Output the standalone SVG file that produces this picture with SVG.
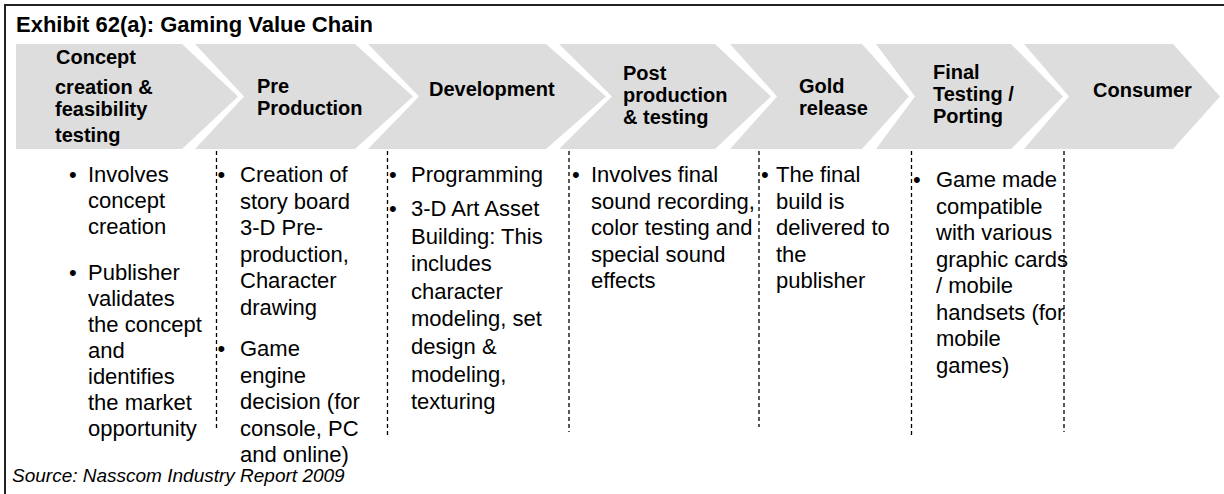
<svg xmlns="http://www.w3.org/2000/svg" width="1224" height="494" viewBox="0 0 1224 494">
<style>
text{font-family:"Liberation Sans",Arial,sans-serif;fill:#000}
.title{font-size:22px;font-weight:bold}
.lbl{font-size:20px;font-weight:bold}
.body{font-size:22px}
.src{font-size:19px;font-style:italic}
.chev{fill:#dddddd}
.sep{stroke:#000;stroke-width:1.3;stroke-dasharray:4 3;fill:none}
</style>
<rect x="5" y="5" width="1240" height="510" fill="#fff" stroke="#222" stroke-width="2"/>
<text class="title" x="16" y="32">Exhibit 62(a): Gaming Value Chain</text>

<g id="concept">
<polygon class="chev" points="16,44 182,44 238,96.5 182,149 16,149"/>
<text class="lbl"><tspan x="56" y="64">Concept</tspan><tspan x="55" y="94">creation &amp;</tspan><tspan x="55" y="116">feasibility</tspan><tspan x="55" y="142">testing</tspan></text>
</g>
<g id="preproduction">
<polygon class="chev" points="195,44 355,44 413,96.5 355,149 195,149 244,96.5"/>
<text class="lbl"><tspan x="257" y="93">Pre</tspan><tspan x="257" y="115">Production</tspan></text>
</g>
<g id="development">
<polygon class="chev" points="368,44 546,44 606,96.5 546,149 368,149 419,96.5"/>
<text class="lbl" x="429" y="96">Development</text>
</g>
<g id="postproduction">
<polygon class="chev" points="559,44 715,44 771,96.5 715,149 559,149 612,96.5"/>
<text class="lbl"><tspan x="623" y="80">Post</tspan><tspan x="623" y="102">production</tspan><tspan x="623" y="124">&amp; testing</tspan></text>
</g>
<g id="goldrelease">
<polygon class="chev" points="730,44 862,44 909,96.5 862,149 730,149 777,96.5"/>
<text class="lbl"><tspan x="799" y="93">Gold</tspan><tspan x="799" y="115">release</tspan></text>
</g>
<g id="finaltesting">
<polygon class="chev" points="876,44 1011,44 1063,96.5 1011,149 876,149 915,96.5"/>
<text class="lbl"><tspan x="933" y="79">Final</tspan><tspan x="933" y="101">Testing /</tspan><tspan x="933" y="123">Porting</tspan></text>
</g>
<g id="consumer">
<polygon class="chev" points="1024,44 1173,44 1220,96.5 1173,149 1024,149 1069,96.5"/>
<text class="lbl" x="1093" y="97">Consumer</text>
</g>

<g id="separators">
<line class="sep" x1="216.5" y1="151" x2="216.5" y2="430"/>
<line class="sep" x1="387.5" y1="151" x2="387.5" y2="437"/>
<line class="sep" x1="569" y1="151" x2="569" y2="432"/>
<line class="sep" x1="759" y1="151" x2="759" y2="427"/>
<line class="sep" x1="911.5" y1="151" x2="911.5" y2="437"/>
<line class="sep" x1="1064" y1="151" x2="1064" y2="432"/>
</g>

<g id="col-concept">
<text class="body" x="69" y="182">•</text>
<text class="body" x="69" y="280">•</text>
<text class="body"><tspan x="88" y="182">Involves</tspan><tspan x="88" y="208">concept</tspan><tspan x="88" y="234">creation</tspan><tspan x="88" y="280">Publisher</tspan><tspan x="88" y="306">validates</tspan><tspan x="88" y="332">the concept</tspan><tspan x="88" y="358">and</tspan><tspan x="88" y="384">identifies</tspan><tspan x="88" y="410">the market</tspan><tspan x="88" y="436">opportunity</tspan></text>
</g>
<g id="col-preproduction">
<text class="body" x="217.5" y="182">•</text>
<text class="body" x="217.5" y="356">•</text>
<text class="body"><tspan x="240" y="182">Creation of</tspan><tspan x="240" y="208.5">story board</tspan><tspan x="240" y="235">3-D Pre-</tspan><tspan x="240" y="261.5">production,</tspan><tspan x="240" y="288">Character</tspan><tspan x="240" y="314.5">drawing</tspan><tspan x="240" y="356">Game</tspan><tspan x="240" y="382.5">engine</tspan><tspan x="240" y="409">decision (for</tspan><tspan x="240" y="435.5">console, PC</tspan><tspan x="240" y="462">and online)</tspan></text>
</g>
<g id="col-development">
<text class="body" x="389" y="182">•</text>
<text class="body" x="389" y="216">•</text>
<text class="body"><tspan x="411" y="182">Programming</tspan><tspan x="411" y="216">3-D Art Asset</tspan><tspan x="411" y="243.6">Building: This</tspan><tspan x="411" y="271.2">includes</tspan><tspan x="411" y="298.8">character</tspan><tspan x="411" y="326.4">modeling, set</tspan><tspan x="411" y="354">design &amp;</tspan><tspan x="411" y="381.6">modeling,</tspan><tspan x="411" y="409.2">texturing</tspan></text>
</g>
<g id="col-postproduction">
<text class="body" x="572" y="182">•</text>
<text class="body"><tspan x="591" y="182">Involves final</tspan><tspan x="591" y="208.5">sound recording,</tspan><tspan x="591" y="235">color testing and</tspan><tspan x="591" y="261.5">special sound</tspan><tspan x="591" y="288">effects</tspan></text>
</g>
<g id="col-goldrelease">
<text class="body" x="761" y="182">•</text>
<text class="body"><tspan x="776" y="182">The final</tspan><tspan x="776" y="208.5">build is</tspan><tspan x="776" y="235">delivered to</tspan><tspan x="776" y="261.5">the</tspan><tspan x="776" y="288">publisher</tspan></text>
</g>
<g id="col-finaltesting">
<text class="body" x="913" y="187">•</text>
<text class="body"><tspan x="936" y="187">Game made</tspan><tspan x="936" y="213.5">compatible</tspan><tspan x="936" y="240">with various</tspan><tspan x="936" y="266.5">graphic cards</tspan><tspan x="936" y="293">/ mobile</tspan><tspan x="936" y="319.5">handsets (for</tspan><tspan x="936" y="346">mobile</tspan><tspan x="936" y="372.5">games)</tspan></text>
</g>

<text class="src" x="12" y="482">Source: Nasscom Industry Report 2009</text>
</svg>
